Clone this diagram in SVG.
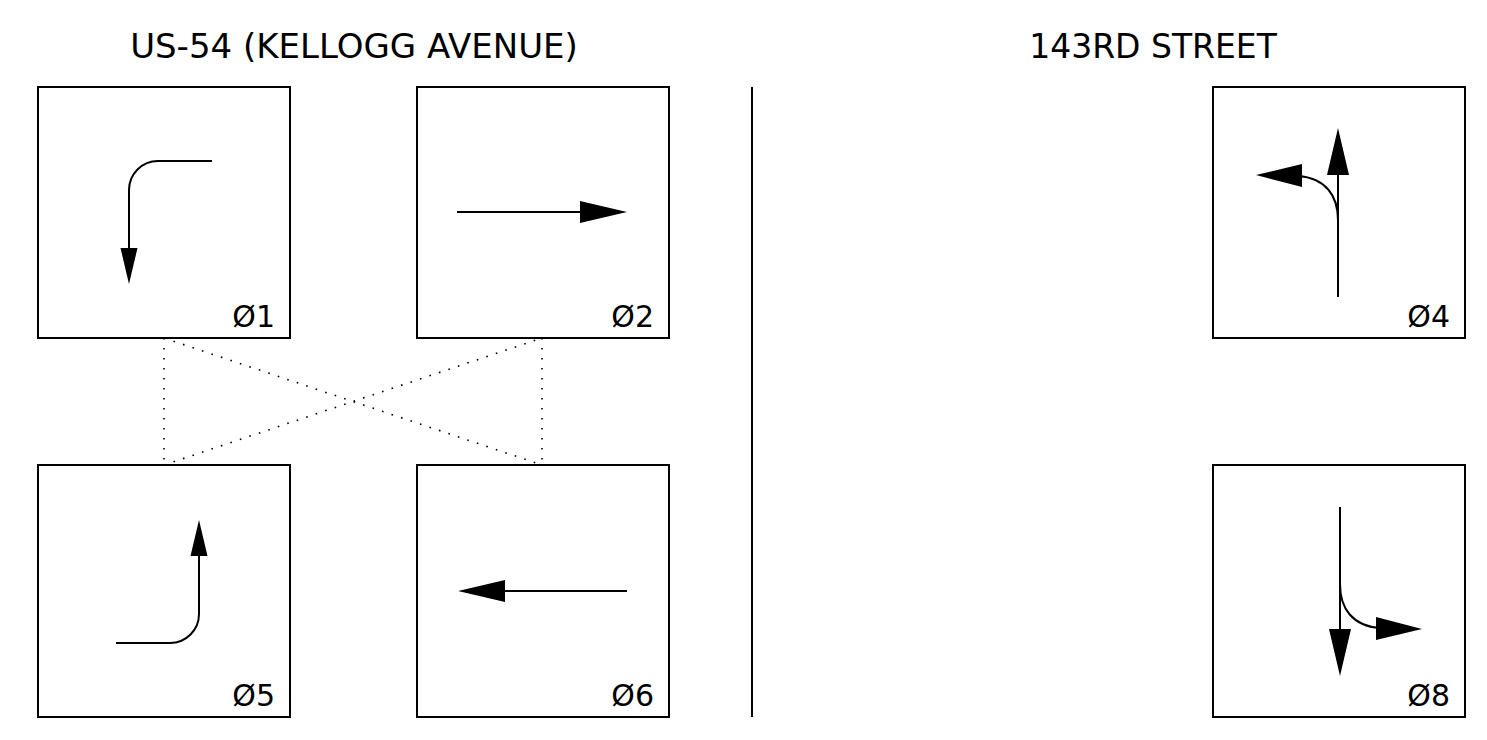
<svg xmlns="http://www.w3.org/2000/svg" width="1487" height="740" viewBox="0 0 1487 740">
<style>
.box{fill:#fff;stroke:#000;stroke-width:2}
.ln{fill:none;stroke:#000;stroke-width:2}
.hd{fill:#000;stroke:none}
.dot{fill:none;stroke:#000;stroke-width:1.6;stroke-dasharray:1.6 8.4}
.title{font-family:"DejaVu Sans",Verdana,sans-serif;font-size:33px;fill:#000;text-anchor:middle}
.lab{font-family:"DejaVu Sans",Verdana,sans-serif;font-size:30px;fill:#000;text-anchor:end}
</style>
<rect width="1487" height="740" fill="#fff"/>
<text class="title" x="354" y="58" style="font-size:34px">US-54 (KELLOGG AVENUE)</text>
<text class="title" x="1153" y="58">143RD STREET</text>
<g id="connectors">
<line class="dot" x1="164" y1="338" x2="164" y2="465"/>
<line class="dot" x1="542" y1="338" x2="542" y2="465"/>
<line class="dot" x1="164" y1="338" x2="542" y2="465"/>
<line class="dot" x1="164" y1="465" x2="542" y2="338"/>
</g>
<line id="divider" class="ln" x1="752" y1="87" x2="752" y2="717"/>
<g id="phase1">
<rect class="box" x="38" y="87" width="252" height="251"/>
<path class="ln" d="M212,161 H158 A29,29 0 0 0 129,190 V252"/>
<polygon class="hd" points="129,284 120.5,248 137.5,248"/>
<text class="lab" x="275" y="327">Ø1</text>
</g>
<g id="phase2">
<rect class="box" x="417" y="87" width="252" height="251"/>
<path class="ln" d="M457,212 H585"/>
<polygon class="hd" points="627,212 580,201 580,223"/>
<text class="lab" x="654" y="327">Ø2</text>
</g>
<g id="phase5">
<rect class="box" x="38" y="465" width="252" height="252"/>
<g transform="rotate(180 164 591.5)">
<path class="ln" d="M212,540 H158 A29,29 0 0 0 129,569 V631"/>
<polygon class="hd" points="129,663 120.5,627 137.5,627"/>
</g>
<text class="lab" x="275" y="706">Ø5</text>
</g>
<g id="phase6">
<rect class="box" x="417" y="465" width="252" height="252"/>
<path class="ln" d="M627,591 H500"/>
<polygon class="hd" points="458,591 505,580 505,602"/>
<text class="lab" x="654" y="706">Ø6</text>
</g>
<g id="phase4">
<rect class="box" x="1213" y="87" width="252" height="251"/>
<path class="ln" d="M1338,297 V170"/>
<polygon class="hd" points="1338,128 1327,175 1349,175"/>
<path class="ln" d="M1338,220 C1338,196 1326,178 1298,176"/>
<polygon class="hd" points="1256,175 1302,164 1302,187"/>
<text class="lab" x="1450" y="327">Ø4</text>
</g>
<g id="phase8">
<rect class="box" x="1213" y="465" width="252" height="252"/>
<g transform="rotate(180 1339 591.5)">
<path class="ln" d="M1338,676 V549"/>
<polygon class="hd" points="1338,507 1327,554 1349,554"/>
<path class="ln" d="M1338,599 C1338,575 1326,557 1298,555"/>
<polygon class="hd" points="1256,554 1302,543 1302,566"/>
</g>
<text class="lab" x="1450" y="706">Ø8</text>
</g>
</svg>
